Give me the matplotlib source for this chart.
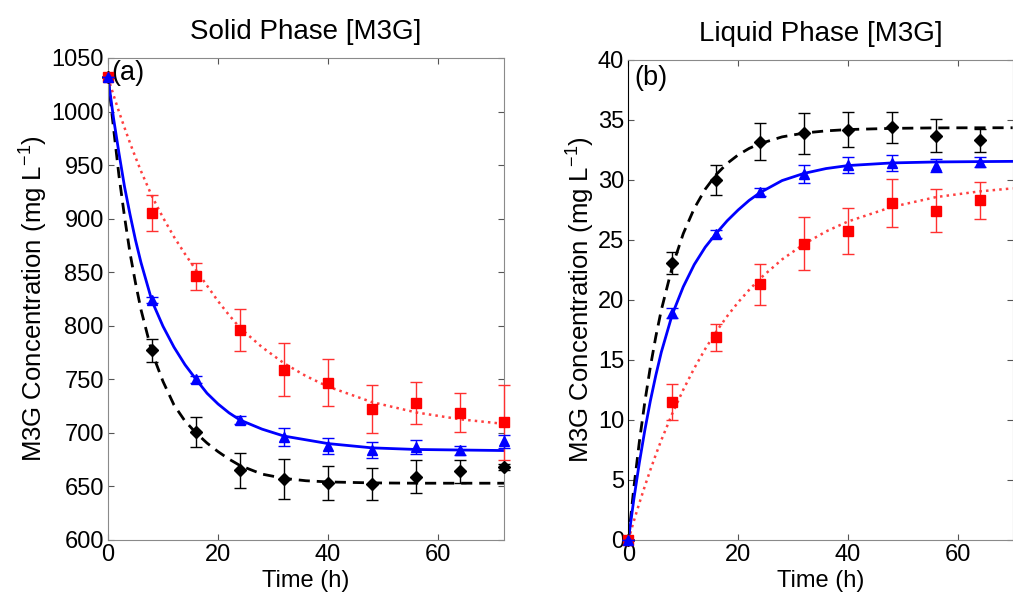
import matplotlib
matplotlib.use("Agg")
import matplotlib.pyplot as plt

plt.rcParams['font.family'] = ['Liberation Sans', 'DejaVu Sans']
plt.rcParams['mathtext.fontset'] = 'custom'
plt.rcParams['mathtext.rm'] = 'Liberation Sans'
plt.rcParams['mathtext.it'] = 'Liberation Sans'

# measured data, solid phase (a)
t_solid = [0, 8, 16, 24, 32, 40, 48, 56, 64, 72]
solid_black = [1032, 777, 701, 665, 657, 653, 652, 659, 664, 668]
solid_black_err = [0, 10.7, 14, 16.5, 18.8, 15.9, 15.1, 15.3, 10.9, 3]
solid_blue = [1032, 824, 750, 712, 696, 688, 684, 687, 684, 692]
solid_blue_err = [0, 3, 3, 4, 8.6, 7.3, 7.6, 6.5, 4.2, 6]
solid_red = [1032, 905, 846, 796, 759, 747, 722, 728, 719, 710]
solid_red_err = [0, 16.8, 12.9, 19.2, 24.6, 21.5, 22.4, 19.6, 18, 35]

# fitted curves, solid phase
t_fit_solid = [0, 1, 2, 3, 4, 5, 6, 8, 10, 12, 14, 16, 18, 20, 22, 24, 28, 32, 36, 40, 48, 56, 64, 72]
fit_solid_black = [1032, 985, 940, 902, 868, 840, 815, 775, 748, 726, 711, 700, 690.5, 682.5, 675.5, 669.5,
                   661.5, 657.5, 655.3, 654.2, 653.3, 653, 653, 653]
fit_solid_blue = [1032, 994, 961, 930, 904, 880, 859, 823, 799.5, 780, 763.6, 750, 737, 727, 718.7, 712,
                  703.5, 697, 693.5, 690, 686, 684.5, 684, 683.5]
fit_solid_red = [1032, 1015.5, 999.8, 985, 970.7, 957.3, 944.4, 920.8, 901, 883, 867, 852, 837.5, 823, 810, 798,
                 780, 765, 753, 743.2, 728.7, 719.1, 712.7, 708.4]

# measured data, liquid phase (b)
t_liquid = [0, 8, 16, 24, 32, 40, 48, 56, 64]
liquid_black = [0, 23.1, 30.0, 33.2, 33.9, 34.2, 34.4, 33.7, 33.3]
liquid_black_err = [0, 0.93, 1.28, 1.53, 1.7, 1.46, 1.3, 1.36, 0.97]
liquid_blue = [0, 18.9, 25.5, 29.0, 30.5, 31.25, 31.4, 31.2, 31.5]
liquid_blue_err = [0, 0.4, 0.3, 0.3, 0.76, 0.64, 0.67, 0.56, 0.4]
liquid_red = [0, 11.5, 16.9, 21.3, 24.7, 25.75, 28.05, 27.45, 28.3]
liquid_red_err = [0, 1.47, 1.13, 1.72, 2.2, 1.93, 2.0, 1.8, 1.57]

# fitted curves, liquid phase
t_fit_liquid = [0, 1, 2, 3, 4, 5, 6, 8, 10, 12, 14, 16, 18, 20, 22, 24, 28, 32, 36, 40, 48, 56, 64, 70]
fit_liquid_black = [0, 4.37, 8.18, 11.51, 14.41, 16.95, 19.16, 22.78, 25.53, 27.63, 29.23, 30.45, 31.38, 32.09,
                    32.63, 33.03, 33.59, 33.91, 34.09, 34.2, 34.3, 34.34, 34.35, 34.35]
fit_liquid_blue = [0, 3.41, 6.44, 9.15, 11.58, 13.72, 15.65, 18.8, 21.1, 22.95, 24.4, 25.55, 26.6, 27.5,
                   28.3, 28.95, 29.95, 30.55, 30.95, 31.2, 31.42, 31.5, 31.53, 31.55]
fit_liquid_red = [0, 1.58, 3.07, 4.48, 5.83, 7.11, 8.32, 10.53, 12.52, 14.31, 15.92, 17.36, 18.65, 19.81,
                  20.84, 21.79, 23.38, 24.66, 25.71, 26.54, 27.75, 28.57, 29.05, 29.3]

fig = plt.figure(figsize=(10.13, 5.96), dpi=100)
ax1 = fig.add_axes([0.1066, 0.094, 0.391, 0.8087])
ax2 = fig.add_axes([0.6203, 0.094, 0.3794, 0.8054])


def draw_panel(ax, t, fit_t, blk, blk_e, blu, blu_e, red, red_e, fblk, fblu, fred):
    ax.plot(fit_t, fblk, color='black', ls='--', lw=2, dashes=(4, 2.5))
    ax.plot(fit_t, fred, color='red', ls=':', lw=1.8, alpha=0.75)
    ax.plot(fit_t, fblu, color='blue', ls='-', lw=2)
    ax.errorbar(t, blk, yerr=blk_e, fmt='D', color='black', ms=6, capsize=4.5, elinewidth=1,
                capthick=1, clip_on=False, zorder=4)
    ax.errorbar(t, red, yerr=red_e, fmt='s', color='red', ms=6.5, capsize=4.5, elinewidth=1,
                capthick=1, clip_on=False, zorder=4, ecolor='#ff3030')
    ax.errorbar(t, blu, yerr=blu_e, fmt='^', color='blue', ms=7.5, capsize=4.5, elinewidth=1,
                capthick=1, clip_on=False, zorder=5)
    ax.tick_params(direction='in', length=4, top=True, right=True, labelsize=17, color='#555555', pad=3)
    ax.set_xticks([0, 20, 40, 60])
    ax.set_xlabel('Time (h)', fontsize=17, labelpad=3)
    ax.set_ylabel('M3G Concentration (mg L$^{-1}$)', fontsize=18.5, labelpad=1)
    for s in ax.spines.values():
        s.set_color('#8a8a8a')


draw_panel(ax1, t_solid, t_fit_solid, solid_black, solid_black_err, solid_blue, solid_blue_err,
           solid_red, solid_red_err, fit_solid_black, fit_solid_blue, fit_solid_red)
ax1.set_xlim(0, 72)
ax1.set_ylim(600, 1050)
ax1.set_yticks(range(600, 1051, 50))
ax1.set_title('Solid Phase [M3G]', fontsize=20, pad=14)
ax1.text(0.008, 0.995, '(a)', transform=ax1.transAxes, fontsize=19.5, va='top', ha='left')

draw_panel(ax2, t_liquid, t_fit_liquid, liquid_black, liquid_black_err, liquid_blue, liquid_blue_err,
           liquid_red, liquid_red_err, fit_liquid_black, fit_liquid_blue, fit_liquid_red)
ax2.set_xlim(0, 70)
ax2.set_ylim(0, 40)
ax2.set_yticks(range(0, 41, 5))
ax2.spines['left'].set_color('black')
ax2.set_title('Liquid Phase [M3G]', fontsize=20, pad=14)
ax2.text(0.015, 0.99, '(b)', transform=ax2.transAxes, fontsize=19.5, va='top', ha='left')

plt.savefig('out.png', dpi=100)
